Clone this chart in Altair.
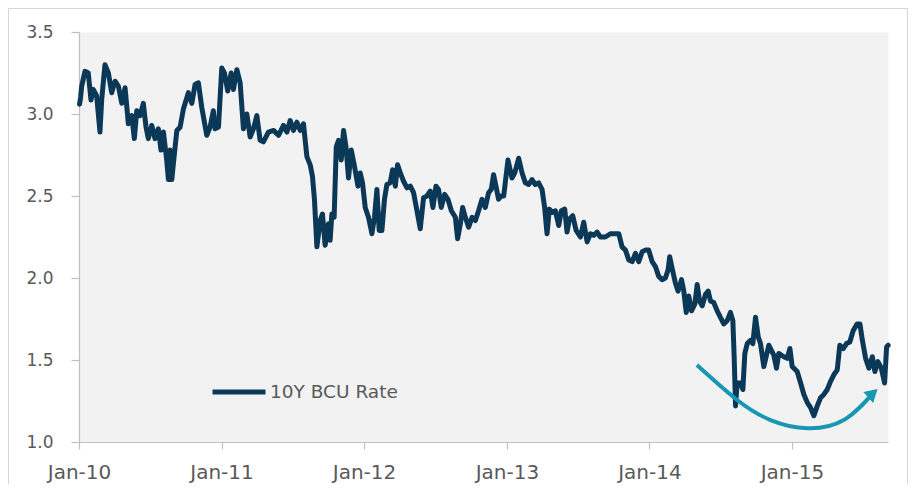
import altair as alt
import pandas as pd

SERIES = "10Y BCU Rate"
LINE_COLOR = "#0c3858"
ARROW_COLOR = "#1797b3"
TEXT_COLOR = "#595959"
AXIS_COLOR = "#c0c0c0"

# time in decimal years, value in %
YEARS = [
    2010.004, 2010.011, 2010.019, 2010.042, 2010.065, 2010.084, 2010.100, 2010.124, 2010.147, 2010.159,
    2010.182, 2010.206, 2010.229, 2010.253, 2010.276, 2010.300, 2010.323, 2010.346, 2010.370, 2010.388,
    2010.405, 2010.428, 2010.451, 2010.470, 2010.486, 2010.510, 2010.533, 2010.556, 2010.575, 2010.592,
    2010.615, 2010.627, 2010.639, 2010.651, 2010.662, 2010.686, 2010.709, 2010.732, 2010.767, 2010.791,
    2010.814, 2010.837, 2010.861, 2010.896, 2010.919, 2010.942, 2010.954, 2010.978,
    2011.001, 2011.020, 2011.043, 2011.067, 2011.083, 2011.107, 2011.130, 2011.153, 2011.177, 2011.200,
    2011.223, 2011.247, 2011.270, 2011.293, 2011.328, 2011.364, 2011.399, 2011.434, 2011.458, 2011.481,
    2011.504, 2011.528, 2011.551, 2011.574, 2011.598, 2011.621, 2011.637, 2011.651, 2011.668, 2011.691,
    2011.707, 2011.726, 2011.749, 2011.761, 2011.773, 2011.789, 2011.804, 2011.820, 2011.839, 2011.855,
    2011.872, 2011.890, 2011.909, 2011.932, 2011.956, 2011.972, 2011.988,
    2012.007, 2012.030, 2012.054, 2012.072, 2012.089, 2012.105, 2012.124, 2012.142, 2012.159, 2012.182,
    2012.199, 2012.218, 2012.234, 2012.253, 2012.276, 2012.300, 2012.323, 2012.346, 2012.370, 2012.393,
    2012.416, 2012.440, 2012.463, 2012.482, 2012.503, 2012.521, 2012.540, 2012.564, 2012.587, 2012.611,
    2012.639, 2012.655, 2012.674, 2012.690, 2012.709, 2012.732, 2012.756, 2012.779, 2012.802, 2012.826,
    2012.849, 2012.872, 2012.891, 2012.907, 2012.924, 2012.942, 2012.961, 2012.978,
    2013.008, 2013.036, 2013.055, 2013.083, 2013.107, 2013.130, 2013.153, 2013.177, 2013.200, 2013.223,
    2013.247, 2013.265, 2013.282, 2013.298, 2013.317, 2013.340, 2013.364, 2013.382, 2013.406, 2013.422,
    2013.439, 2013.462, 2013.486, 2013.516, 2013.539, 2013.563, 2013.586, 2013.609, 2013.633, 2013.656,
    2013.691, 2013.726, 2013.761, 2013.785, 2013.808, 2013.832, 2013.855, 2013.879, 2013.902, 2013.925,
    2013.949, 2013.972, 2013.995,
    2014.019, 2014.042, 2014.065, 2014.089, 2014.112, 2014.131, 2014.142, 2014.159, 2014.182, 2014.201,
    2014.225, 2014.241, 2014.258, 2014.276, 2014.295, 2014.318, 2014.335, 2014.351, 2014.370, 2014.393,
    2014.412, 2014.428, 2014.451, 2014.475, 2014.498, 2014.521, 2014.545, 2014.568, 2014.585, 2014.594,
    2014.604, 2014.615, 2014.639, 2014.655, 2014.669, 2014.686, 2014.709, 2014.725, 2014.744, 2014.763,
    2014.779, 2014.802, 2014.837, 2014.872, 2014.891, 2014.907, 2014.942, 2014.966, 2014.985,
    2015.001, 2015.036, 2015.060, 2015.083, 2015.107, 2015.130, 2015.153, 2015.177, 2015.200, 2015.223,
    2015.247, 2015.270, 2015.293, 2015.317, 2015.335, 2015.359, 2015.382, 2015.405, 2015.429, 2015.457,
    2015.476, 2015.493, 2015.516, 2015.539, 2015.563, 2015.581, 2015.602, 2015.626, 2015.649, 2015.663,
    2015.674,
]
RATES = [
    3.06, 3.10, 3.17, 3.26, 3.25, 3.085, 3.15, 3.11, 2.89, 3.085,
    3.30, 3.25, 3.13, 3.20, 3.17, 3.065, 3.16, 2.94, 2.99, 2.85,
    3.02, 2.99, 3.065, 2.92, 2.85, 2.93, 2.85, 2.91, 2.78, 2.89,
    2.72, 2.60, 2.78, 2.60, 2.70, 2.90, 2.92, 3.03, 3.13, 3.065,
    3.18, 3.19, 3.04, 2.87, 2.92, 3.02, 2.91, 2.92,
    3.28, 3.25, 3.14, 3.25, 3.15, 3.27, 3.19, 2.91, 3.00, 2.86,
    2.91, 2.99, 2.84, 2.83, 2.89, 2.90, 2.87, 2.93, 2.89, 2.96,
    2.90, 2.95, 2.90, 2.94, 2.74, 2.69, 2.62, 2.48, 2.19, 2.35,
    2.39, 2.20, 2.33, 2.23, 2.39, 2.37, 2.80, 2.84, 2.72, 2.90,
    2.80, 2.61, 2.78, 2.68, 2.56, 2.64, 2.58,
    2.43, 2.37, 2.27, 2.37, 2.54, 2.29, 2.29, 2.48, 2.57, 2.58,
    2.66, 2.56, 2.69, 2.64, 2.59, 2.55, 2.56, 2.52, 2.41, 2.30,
    2.49, 2.50, 2.53, 2.43, 2.56, 2.54, 2.43, 2.51, 2.48, 2.41,
    2.37, 2.24, 2.33, 2.43, 2.37, 2.31, 2.37, 2.35, 2.41, 2.48,
    2.43, 2.52, 2.54, 2.63, 2.56, 2.48, 2.50, 2.50,
    2.72, 2.61, 2.64, 2.73, 2.64, 2.58, 2.57, 2.60, 2.57, 2.58,
    2.54, 2.43, 2.27, 2.42, 2.40, 2.41, 2.32, 2.41, 2.42, 2.28,
    2.36, 2.38, 2.29, 2.25, 2.34, 2.22, 2.27, 2.26, 2.28, 2.25,
    2.25, 2.27, 2.27, 2.27, 2.19, 2.17, 2.11, 2.10, 2.15, 2.10,
    2.16, 2.17, 2.17,
    2.10, 2.07, 2.01, 1.99, 2.00, 2.05, 2.13, 2.06, 1.97, 1.92,
    1.99, 1.92, 1.79, 1.89, 1.80, 1.84, 1.96, 1.86, 1.83, 1.90,
    1.92, 1.86, 1.85, 1.80, 1.76, 1.72, 1.74, 1.79, 1.74, 1.52,
    1.22, 1.36, 1.36, 1.32, 1.54, 1.60, 1.62, 1.60, 1.76, 1.64,
    1.60, 1.46, 1.59, 1.53, 1.45, 1.54, 1.52, 1.51, 1.57,
    1.46, 1.43, 1.36, 1.29, 1.24, 1.21, 1.16, 1.22, 1.27, 1.29,
    1.32, 1.37, 1.41, 1.44, 1.59, 1.57, 1.60, 1.61, 1.68, 1.72,
    1.72, 1.62, 1.51, 1.45, 1.52, 1.43, 1.49, 1.45, 1.36, 1.58,
    1.59,
]

# annotation arrow (decimal years, value)
ARROW_YEARS = [2014.333, 2014.615, 2014.849, 2015.107, 2015.363, 2015.567]
ARROW_RATES = [1.469, 1.256, 1.134, 1.084, 1.134, 1.297]
HEAD_YEARS = [2015.567]
HEAD_RATES = [1.297]

Y_TICKS = [1.0, 1.5, 2.0, 2.5, 3.0, 3.5]
X_TICK_YEARS = [2010, 2011, 2012, 2013, 2014, 2015]


def to_ts(years):
    out = []
    for y in years:
        ts = pd.Timestamp("2010-01-01") + pd.to_timedelta((y - 2010.0) * 365.25, unit="D")
        out.append(ts.strftime("%Y-%m-%dT%H:%M:%S"))
    return out


df = pd.DataFrame({"date": to_ts(YEARS), "value": RATES, "series": SERIES})
arrow_df = pd.DataFrame({"date": to_ts(ARROW_YEARS), "value": ARROW_RATES})
head_df = pd.DataFrame({"date": to_ts(HEAD_YEARS), "value": HEAD_RATES})

x_scale = alt.Scale(domain=[alt.DateTime(year=2010, month=1, date=1),
                            alt.DateTime(year=2015, month=9, date=4)])
y_scale = alt.Scale(domain=[1.0, 3.5], nice=False, zero=False)

x_axis = alt.Axis(
    title=None,
    values=[alt.DateTime(year=y, month=1, date=1) for y in X_TICK_YEARS],
    format="%b-%y",
    labelFontSize=20,
    labelPadding=13,
    labelFlush=False,
    tickSize=7,
    grid=False,
)
y_axis = alt.Axis(
    title=None,
    values=Y_TICKS,
    format=".1f",
    labelFontSize=17,
    labelPadding=18,
    tickSize=8,
    grid=False,
)

line = alt.Chart(df).mark_line(
    strokeWidth=5, strokeJoin="round", strokeCap="round"
).encode(
    x=alt.X("date:T", scale=x_scale, axis=x_axis),
    y=alt.Y("value:Q", scale=y_scale, axis=y_axis),
    color=alt.Color(
        "series:N",
        scale=alt.Scale(domain=[SERIES], range=[LINE_COLOR]),
        legend=alt.Legend(
            title=None,
            orient="none",
            legendX=131,
            legendY=331,
            symbolType="stroke",
            symbolSize=2809,
            symbolStrokeWidth=5,
            labelFont="DejaVu Sans",
            labelFontSize=18.5,
            labelColor=TEXT_COLOR,
            labelOffset=2,
            padding=0,
        ),
    ),
)

arrow = alt.Chart(arrow_df).mark_line(
    interpolate="natural", color=ARROW_COLOR, strokeWidth=4
).encode(
    x=alt.X("date:T", scale=x_scale),
    y=alt.Y("value:Q", scale=y_scale),
)

head = alt.Chart(head_df).mark_point(
    shape="triangle-up", filled=True, size=210, angle=48, color=ARROW_COLOR, opacity=1
).encode(
    x=alt.X("date:T", scale=x_scale),
    y=alt.Y("value:Q", scale=y_scale),
)

border = alt.Chart(pd.DataFrame({"k": [0]})).mark_rect(
    fillOpacity=0, stroke="#d6d6d6", strokeWidth=1
).encode(
    x=alt.value(-70.5), x2=alt.value(828.5), y=alt.value(-23.5), y2=alt.value(480)
)

chart = alt.layer(border, line, arrow, head).properties(
    width=809,
    height=410,
    padding={"left": 71, "top": 24, "right": 20, "bottom": 42},
    autosize=alt.AutoSizeParams(type="none"),
).configure_view(
    fill="#f2f2f2", stroke="transparent"
).configure_axis(
    labelFont="DejaVu Sans",
    labelColor=TEXT_COLOR,
    domainColor=AXIS_COLOR,
    tickColor=AXIS_COLOR,
    domainWidth=1.2,
    tickWidth=1.2,
)

chart.save("out.html", embed_options={"renderer": "svg", "actions": False})
